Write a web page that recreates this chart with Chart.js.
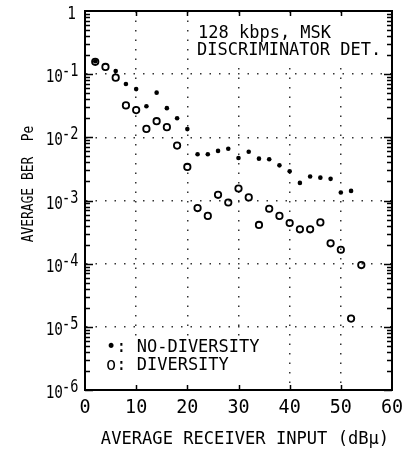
<!DOCTYPE html>
<html lang="en">
<head>
<meta charset="UTF-8">
<title>Average BER - 128 kbps MSK</title>
<script src="https://cdn.jsdelivr.net/npm/chart.js"></script>
<style>
  html, body { margin: 0; padding: 0; background: #fff; }
  canvas { display: block; }
</style>
</head>
<body>
<canvas id="berChart" width="408" height="455"></canvas>
<script>
const inputNoDiv = [2, 6, 8, 10, 12, 14, 16, 18, 20, 22, 24, 26, 28, 30, 32, 34, 36, 38, 40, 42, 44, 46, 48, 50, 52];
const berNoDiv   = [0.16, 0.112, 0.07, 0.058, 0.031, 0.051, 0.029, 0.02, 0.0135, 0.0054, 0.0054, 0.0061, 0.0066,
                    0.0047, 0.0059, 0.0046, 0.0045, 0.0036, 0.0029, 0.0019, 0.0024, 0.0023, 0.0022, 0.00134, 0.00142];
const inputDiv   = [2, 4, 6, 8, 10, 12, 14, 16, 18, 20, 22, 24, 26, 28, 30, 32, 34, 36, 38, 40, 42, 44, 46, 48, 50, 52, 54];
const berDiv     = [0.157, 0.13, 0.088, 0.032, 0.027, 0.0136, 0.018, 0.0145, 0.0074, 0.0034, 7.6e-4, 5.7e-4, 1.23e-3,
                    9.3e-4, 1.55e-3, 1.12e-3, 4.1e-4, 7.4e-4, 5.7e-4, 4.4e-4, 3.5e-4, 3.5e-4, 4.5e-4, 2.1e-4, 1.66e-4,
                    1.35e-5, 9.5e-5];

const xTicks    = [0, 10, 20, 30, 40, 50, 60];
const yDecades  = [1, 1e-1, 1e-2, 1e-3, 1e-4, 1e-5, 1e-6];
const yExpLabel = ['', '-1', '-2', '-3', '-4', '-5', '-6'];
const noteLines   = ['128 kbps, MSK', 'DISCRIMINATOR DET.'];
const legendLines = ['\u2022: NO-DIVERSITY', 'o: DIVERSITY'];
const xTitle = 'AVERAGE RECEIVER INPUT (dB\u00b5)';
const yTitle = 'AVERAGE BER  Pe';

const FONT = '"DejaVu Sans Mono", "Liberation Mono", monospace';

function put(ctx, txt, x, y, size, sx, align) {
  ctx.save();
  ctx.font = size + 'px ' + FONT;
  ctx.fillStyle = '#000';
  ctx.textAlign = align || 'left';
  ctx.textBaseline = 'alphabetic';
  ctx.translate(x, y);
  ctx.scale(sx, 1);
  ctx.fillText(txt, 0, 0);
  ctx.restore();
}

// plotter style extras: inward ticks, labels with superscripts, boxed notes
const decorPlugin = {
  id: 'decor',
  afterDraw(chart) {
    const { ctx, chartArea: a, scales: { x, y } } = chart;

    // white boxes behind the note and the legend (grid is hidden there)
    ctx.save();
    ctx.fillStyle = '#fff';
    ctx.fillRect(194, 14, 194, 54);
    ctx.fillRect(100, 336, 168, 52);
    ctx.restore();

    // inward ticks
    ctx.save();
    ctx.strokeStyle = '#000';
    ctx.lineWidth = 1.5;
    ctx.beginPath();
    for (let e = -6; e < 0; e++) {
      for (let m = 1; m <= 9; m++) {
        const py = Math.round(y.getPixelForValue(m * Math.pow(10, e))) + 0.5;
        const len = m === 1 ? 8 : 5;
        ctx.moveTo(a.left, py); ctx.lineTo(a.left + len, py);
        ctx.moveTo(a.right, py); ctx.lineTo(a.right - len, py);
      }
    }
    xTicks.slice(1, -1).forEach(v => {
      const px = Math.round(x.getPixelForValue(v)) + 0.5;
      ctx.moveTo(px, a.top); ctx.lineTo(px, a.top + 5);
      ctx.moveTo(px, a.bottom); ctx.lineTo(px, a.bottom - 5);
    });
    ctx.stroke();
    ctx.restore();

    // y tick labels: 1, 10^-1 ... 10^-6
    yDecades.forEach((v, i) => {
      const py = y.getPixelForValue(v);
      if (!yExpLabel[i]) {
        put(ctx, '1', 76, py + 8, 18, 0.8, 'right');
      } else {
        put(ctx, '10', 63, py + 8, 18, 0.8, 'right');
        put(ctx, yExpLabel[i], 62, py + 2, 17, 0.8, 'left');
      }
    });

    // x tick labels
    xTicks.forEach(v => {
      put(ctx, String(v), x.getPixelForValue(v), 413, 20, 0.92, 'center');
    });

    // axis titles
    put(ctx, xTitle, 245, 444, 18, 0.95, 'center');
    ctx.save();
    ctx.translate(27, 184);
    ctx.rotate(-Math.PI / 2);
    put(ctx, yTitle, 0, 5.5, 15, 0.86, 'center');
    ctx.restore();

    // note and legend
    put(ctx, noteLines[0], 198, 38, 17, 1, 'left');
    put(ctx, noteLines[1], 197, 55, 17, 1, 'left');
    put(ctx, legendLines[0], 106, 352, 17, 1, 'left');
    put(ctx, legendLines[1], 106, 370, 17, 1, 'left');
  }
};

const gridStyle = { color: '#333', lineWidth: 1.5, drawTicks: false };
const borderStyle = { display: true, color: '#000', width: 2, dash: [1.5, 8] };

new Chart(document.getElementById('berChart'), {
  type: 'scatter',
  data: {
    datasets: [
      {
        label: 'NO-DIVERSITY',
        data: inputNoDiv.map((v, i) => ({ x: v, y: berNoDiv[i] })),
        pointStyle: 'circle',
        pointRadius: 2.3,
        borderWidth: 0,
        backgroundColor: '#000'
      },
      {
        label: 'DIVERSITY',
        data: inputDiv.map((v, i) => ({ x: v, y: berDiv[i] })),
        pointStyle: 'circle',
        pointRadius: 3.2,
        borderWidth: 1.8,
        borderColor: '#000',
        backgroundColor: 'rgba(0,0,0,0)'
      }
    ]
  },
  options: {
    responsive: false,
    animation: false,
    devicePixelRatio: 1,
    layout: { autoPadding: false, padding: { left: 85, right: 16, top: 11, bottom: 65 } },
    plugins: { legend: { display: false }, tooltip: { enabled: false } },
    scales: {
      x: {
        type: 'linear', min: 0, max: 60,
        afterBuildTicks: s => { s.ticks = xTicks.map(v => ({ value: v })); },
        ticks: { display: false },
        grid: gridStyle,
        border: borderStyle
      },
      y: {
        type: 'logarithmic', min: 1e-6, max: 1,
        afterBuildTicks: s => { s.ticks = yDecades.map(v => ({ value: v })); },
        ticks: { display: false },
        grid: gridStyle,
        border: borderStyle
      },
      xTop: {
        type: 'linear', position: 'top', min: 0, max: 60,
        ticks: { display: false },
        grid: { drawOnChartArea: false, drawTicks: false },
        border: { display: true, color: '#000', width: 2 }
      },
      yRight: {
        type: 'logarithmic', position: 'right', min: 1e-6, max: 1,
        ticks: { display: false },
        grid: { drawOnChartArea: false, drawTicks: false },
        border: { display: true, color: '#000', width: 2 }
      }
    }
  },
  plugins: [decorPlugin]
});
</script>
</body>
</html>
